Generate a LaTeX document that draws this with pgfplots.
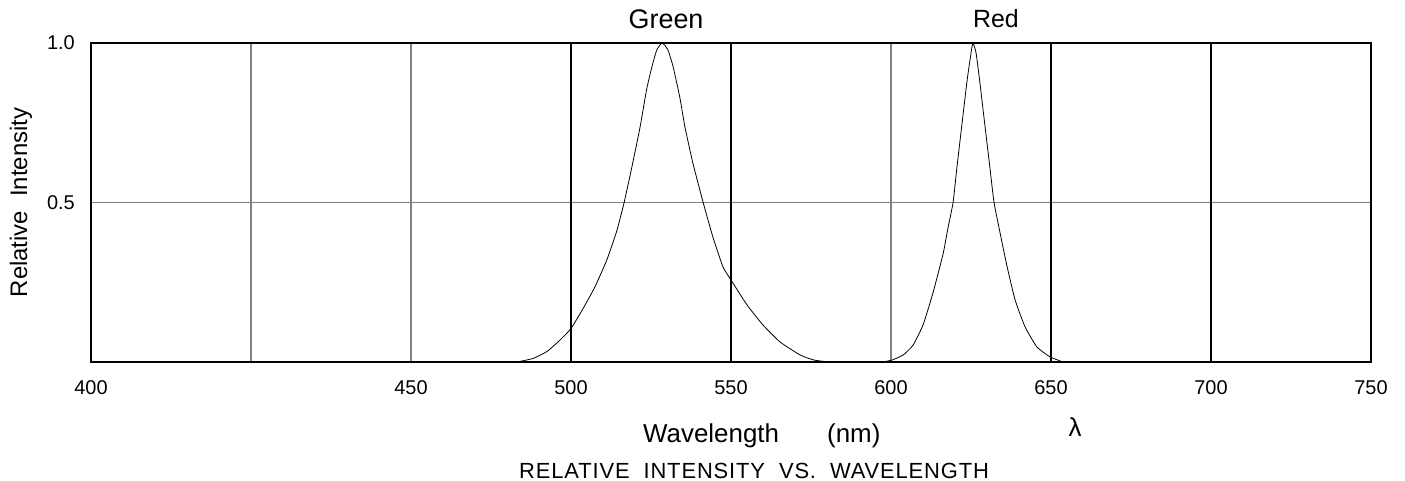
\documentclass[border=0pt]{standalone}
\usepackage{fontspec}
\setmainfont{Liberation Sans}
\newfontfamily\widefont[LetterSpace=4]{Liberation Sans}
\usepackage{pgfplots}
\pgfplotsset{compat=1.18}

\begin{document}
\begin{tikzpicture}
\begin{axis}[
    at={(0,0)}, anchor=south west,
    scale only axis, width=1280bp, height=319bp,
    xmin=350, xmax=750, ymin=0, ymax=1,
    clip=false,
    axis line style={line width=1.5bp},
    xtick={350,450,500,550,600,650,700,750},
    xticklabels={400,450,500,550,600,650,700,750},
    minor xtick={400,450,600},
    xminorgrids,
    minor grid style={gray, line width=1.2bp},
    extra x ticks={500,550,650,700},
    extra x tick labels={},
    extra x tick style={xmajorgrids=true, major grid style={black, line width=1.5bp}},
    ytick={0.5,1}, yticklabels={0.5,1.0},
    ymajorgrids,
    major grid style={gray, line width=1.2bp},
    major tick length=0, minor tick length=0,
    xticklabel style={font=\fontsize{20}{24}\selectfont, anchor=north, inner sep=0pt, yshift=-18bp},
    yticklabel style={font=\fontsize{20}{24}\selectfont, anchor=east, inner sep=0pt, xshift=-16bp},
]
% Green
\addplot[black, line width=0.8bp, smooth, tension=0.3] coordinates {
    (483.1,0) (488.1,0.011) (492.5,0.033) (496.6,0.069) (500,0.105)
    (503.8,0.168) (507.5,0.236) (511.2,0.32) (514.4,0.414) (516.6,0.50)
    (519,0.61) (521.6,0.737) (523.6,0.853) (525.3,0.926) (526.8,0.978)
    (528.5,1.0) (530.3,0.978) (531.9,0.926) (534,0.83) (535.6,0.737)
    (538.1,0.623) (541.3,0.50) (544.4,0.39) (547.5,0.298) (550,0.257)
    (555,0.179) (560,0.116) (565.3,0.063) (571.6,0.022) (576,0.006) (581,0)
};
% Red
\addplot[black, line width=0.8bp, smooth, tension=0.3] coordinates {
    (597.2,0) (600.3,0.006) (603.8,0.022) (606.9,0.053) (610,0.116)
    (613.1,0.216) (616.3,0.34) (617.8,0.42) (619.4,0.50) (620.6,0.61)
    (622.2,0.748) (623.8,0.884) (625,0.968) (625.6,1.0) (626.6,0.968)
    (627.8,0.874) (629.4,0.737) (630.9,0.61) (632.2,0.50) (634.1,0.404)
    (636.3,0.298) (638.8,0.194) (641.9,0.11) (645.6,0.047) (649.7,0.016)
    (653.8,0)
};
\node[anchor=base, inner sep=0pt, font=\fontsize{27}{30}\selectfont] at (axis cs:529.7,1.044) {Green};
\node[anchor=base, inner sep=0pt, font=\fontsize{25}{30}\selectfont] at (axis cs:632.8,1.05) {Red};
\node[anchor=base west, inner sep=0pt, font=\fontsize{26}{30}\selectfont] at (axis cs:522.5,-0.251) {Wavelength};
\node[anchor=base west, inner sep=0pt, font=\fontsize{26}{30}\selectfont] at (axis cs:580,-0.251) {(nm)};
\node[anchor=base, inner sep=0pt, font=\fontsize{26}{30}\selectfont] at (axis cs:657.5,-0.235) {λ};
\node[anchor=base, inner sep=0pt, font=\widefont\fontsize{22}{26}\selectfont] at (axis cs:557.2,-0.364) {RELATIVE\ \ INTENSITY\ \ VS.\ \ WAVELENGTH};
\node[rotate=90, anchor=center, inner sep=0pt, font=\fontsize{24}{28}\selectfont] at (axis cs:328.1,0.5) {Relative\hspace{14bp}Intensity};
\end{axis}
\pgfresetboundingbox
\path (-91bp,-119bp) rectangle (1314bp,362bp);
\end{tikzpicture}
\end{document}
